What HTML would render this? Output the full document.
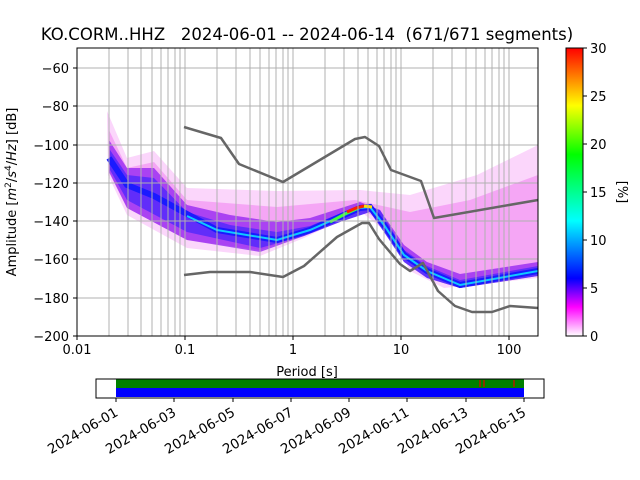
<!DOCTYPE html>
<html><head><meta charset="utf-8"><style>
body{margin:0;background:#fff}
svg{display:block;font-family:"DejaVu Sans","Liberation Sans",sans-serif}
</style></head><body>
<svg width="640" height="480" viewBox="0 0 640 480" xmlns="http://www.w3.org/2000/svg">
<defs>
<linearGradient id="cb" x1="0" y1="1" x2="0" y2="0">
<stop offset="0" stop-color="#fff"/><stop offset="0.1" stop-color="#f0f"/><stop offset="0.2" stop-color="#00f"/>
<stop offset="0.4" stop-color="#0ff"/><stop offset="0.63" stop-color="#0f0"/><stop offset="0.8" stop-color="#ff0"/><stop offset="1" stop-color="#f00"/>
</linearGradient>
<clipPath id="ax"><rect x="77" y="48" width="461" height="288"/></clipPath>
</defs>
<text x="307" y="40" font-size="16.5" text-anchor="middle" style="white-space:pre">KO.CORM..HHZ   2024-06-01 -- 2024-06-14  (671/671 segments)</text>
<g clip-path="url(#ax)">
<path d="M107,111 L127,158 L154,151 L187,188 L277,191 L360,190 L410,195 L477,175 L538,145 L538,278 L444,288 L410,271 L394,238 L360,211 L304,238 L260,256 L187,248 L127,215 L108,175 Z" fill="#fbd6fb"/>
<path d="M109,130 L127,168 L154,162 L187,200 L277,207 L355,200 L410,212 L470,200 L538,175 L538,270 L444,282 L410,262 L394,232 L360,207 L304,234 L260,250 L187,240 L127,208 L109,170 Z" fill="#f080f0" opacity="0.55"/>
<path d="M109,140 L127,168 L154,168 L187,205 L230,215 L277,222 L310,218 L360,202 L380,210 L404,245 L427,262 L460,274 L538,262 L538,276 L460,288 L427,278 L404,262 L384,232 L370,212 L340,222 L304,236 L260,252 L187,240 L127,208 L109,172 Z" fill="#9020f0" opacity="0.75"/>
<path d="M110,150 L127,175 L154,178 L187,212 L230,225 L277,232 L310,226 L360,205 L380,210 L404,250 L427,266 L460,280 L538,266 L538,276 L460,288 L427,278 L404,262 L384,232 L370,212 L340,222 L304,236 L260,248 L187,232 L127,200 L110,170 Z" fill="#3020ff" opacity="0.6"/>
<polyline points="109,158 127,185 154,196 187,214 217,230 277,240 310,230 360,208 370,207 384,225 404,255 427,271 460,285 538,271" fill="none" stroke="#1a1aff" stroke-width="6"/>
<polyline points="187,216 217,230 277,240 310,230 360,208 370,207 384,225 404,255 427,271 460,285 538,271" fill="none" stroke="#10c8ff" stroke-width="2"/>
<polyline points="330,222 345,214 358,208" fill="none" stroke="#40ff40" stroke-width="3"/>
<polyline points="347,212 356,208 364,206" fill="none" stroke="#ff2000" stroke-width="3"/>
<polyline points="364,206 372,207" fill="none" stroke="#ffe000" stroke-width="3"/>
</g>
<g stroke="#b0b0b0" stroke-width="1">
<path d="M109,48V336M128,48V336M141,48V336M152,48V336M161,48V336M168,48V336M175,48V336M180,48V336M185,48V336M217,48V336M236,48V336M250,48V336M260,48V336M269,48V336M276,48V336M283,48V336M288,48V336M293,48V336M325,48V336M344,48V336M358,48V336M368,48V336M377,48V336M384,48V336M391,48V336M396,48V336M401,48V336M433,48V336M452,48V336M466,48V336M476,48V336M485,48V336M492,48V336M499,48V336M504,48V336M509,48V336"/>
<path d="M77,68H538M77,106H538M77,145H538M77,183H538M77,221H538M77,259H538M77,298H538"/>
</g>
<g fill="none" stroke="#666" stroke-width="2.5" stroke-linejoin="round">
<polyline points="184,127 221,138 239,164 283,182 355,139 365,137 379,146 391,170 421,181 434,218 538,200"/>
<polyline points="184,275 210,272 250,272 283,277 304,266 337,237 362,223 369,223 379,239 400,264 410,271 423,263 438,291 455,306 472,312 492,312 510,306 538,308"/>
</g>
<rect x="77" y="48" width="461" height="288" fill="none" stroke="#000" stroke-width="1"/>
<g font-size="13" text-anchor="end" fill="#000">
<text x="69" y="73">−60</text><text x="69" y="111">−80</text><text x="69" y="150">−100</text><text x="69" y="188">−120</text><text x="69" y="226">−140</text><text x="69" y="264">−160</text><text x="69" y="303">−180</text><text x="69" y="341">−200</text>
</g>
<g stroke="#000"><path d="M73,68H77M73,106H77M73,145H77M73,183H77M73,221H77M73,259H77M73,298H77M73,336H77M77,336V340M185,336V340M293,336V340M401,336V340M509,336V340"/></g>
<g font-size="13" text-anchor="middle">
<text x="77" y="354">0.01</text><text x="185" y="354">0.1</text><text x="293" y="354">1</text><text x="401" y="354">10</text><text x="509" y="354">100</text>
<text x="307" y="376">Period [s]</text>
</g>
<text transform="translate(16,192) rotate(-90)" font-size="13" text-anchor="middle">Amplitude [<tspan font-style="italic">m</tspan><tspan font-size="9" dy="-5">2</tspan><tspan dy="5">/</tspan><tspan font-style="italic">s</tspan><tspan font-size="9" dy="-5">4</tspan><tspan dy="5">/</tspan><tspan font-style="italic">Hz</tspan>] [dB]</text>
<rect x="566" y="48" width="17" height="288" fill="url(#cb)" stroke="#000" stroke-width="1"/>
<g stroke="#000"><path d="M583,48h4M583,96h4M583,144h4M583,192h4M583,240h4M583,288h4M583,336h4"/></g>
<g font-size="13"><text x="590" y="53">30</text><text x="590" y="101">25</text><text x="590" y="149">20</text><text x="590" y="197">15</text><text x="590" y="245">10</text><text x="590" y="293">5</text><text x="590" y="341">0</text></g>
<text transform="translate(618,192) rotate(90)" font-size="13" text-anchor="middle">[%]</text>
<rect x="116" y="379" width="408" height="9" fill="#008000"/>
<rect x="116" y="388" width="408" height="9" fill="#0000ff"/>
<path d="M480,380v7M484,380v7M514,380v7" stroke="#e00000" stroke-width="1.2"/>
<rect x="96" y="379" width="448" height="19" fill="none" stroke="#000"/>
<g stroke="#000"><path d="M116,398v4M174,398v4M233,398v4M291,398v4M349,398v4M407,398v4M466,398v4M524,398v4"/></g>
<g font-size="13.5" text-anchor="end">
<text transform="translate(119,415) rotate(-30)">2024-06-01</text>
<text transform="translate(177,415) rotate(-30)">2024-06-03</text>
<text transform="translate(236,415) rotate(-30)">2024-06-05</text>
<text transform="translate(294,415) rotate(-30)">2024-06-07</text>
<text transform="translate(352,415) rotate(-30)">2024-06-09</text>
<text transform="translate(410,415) rotate(-30)">2024-06-11</text>
<text transform="translate(469,415) rotate(-30)">2024-06-13</text>
<text transform="translate(527,415) rotate(-30)">2024-06-15</text>
</g>
</svg>
</body></html>
